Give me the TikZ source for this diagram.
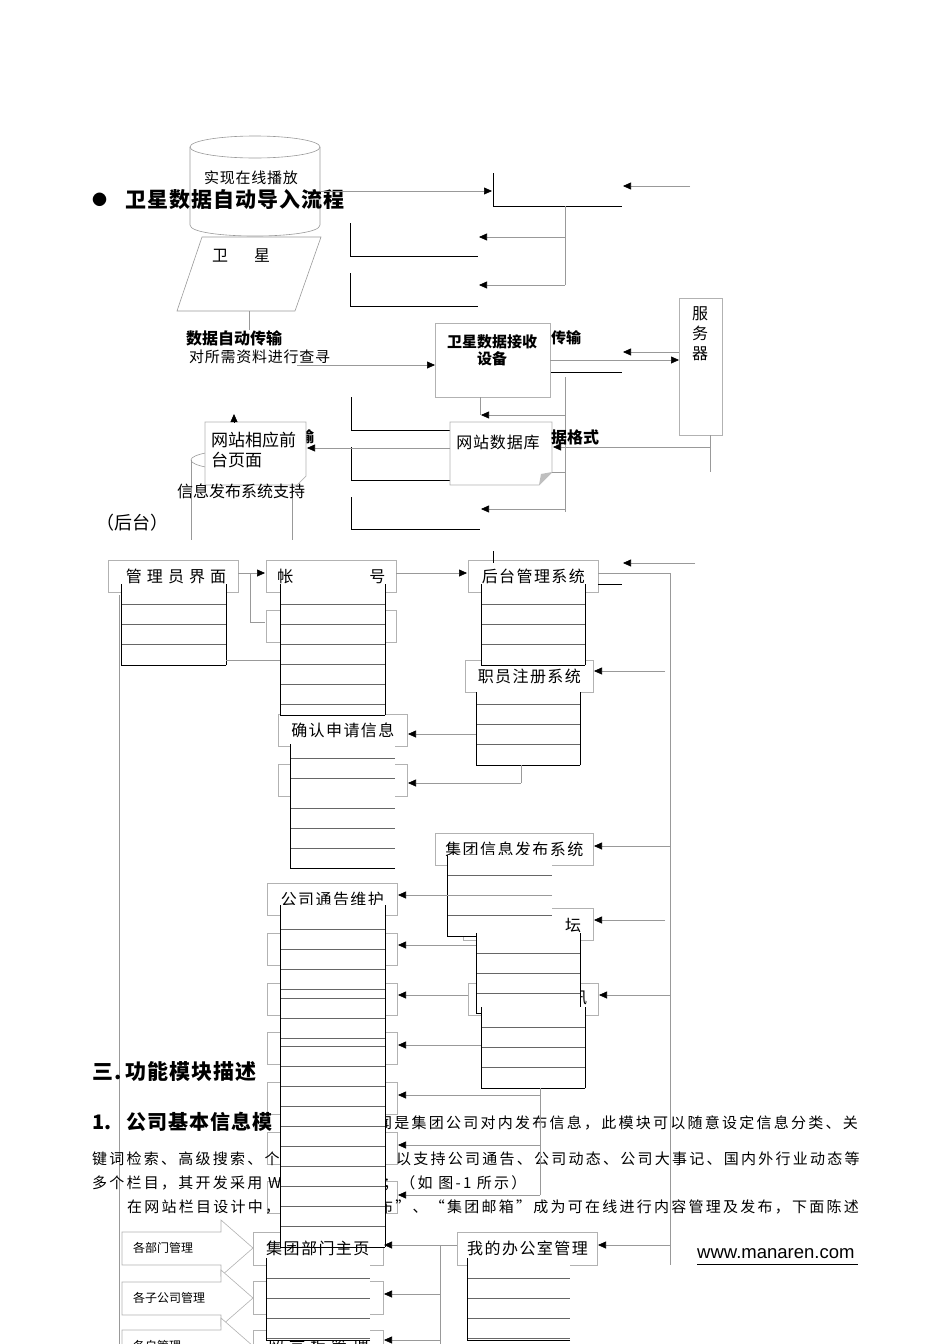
\documentclass[tikz,border=0pt]{standalone}
\usepackage{fontspec}
\setmainfont{Noto Sans CJK SC}
\newfontfamily\spa{Noto Sans CJK SC}[LetterSpace=5]
\newfontfamily\spb{Noto Sans CJK SC}[LetterSpace=9]
\newfontfamily\spp{Noto Sans CJK SC}[LetterSpace=15]
\newfontfamily\spc{Noto Sans CJK SC}[LetterSpace=32]
\newfontfamily\arialf{Liberation Sans}
\usetikzlibrary{arrows.meta,shapes.geometric,calc}
\newcommand\fsz[1]{\fontsize{#1}{#1}\selectfont}
\tikzset{
  gl/.style={draw=black!40,line width=0.6pt},
  bl/.style={draw=black,line width=0.9pt},
  arw/.style={-{Triangle[length=8pt,width=7pt,color=black]}},
  gbox/.style={draw=black!30,line width=0.7pt,fill=white,inner sep=0pt,anchor=north west,minimum height=32pt},
  lbl/.style={inner sep=0pt,anchor=west},
  boxtxt/.style={font=\fsz{16}\spb},
}
\newcommand\gridtab[6]{%
  \fill[white] (#1,#2) rectangle (#3,#4);
  \foreach \yy in {#5} \draw[draw=black!60,line width=0.6pt] (#1,\yy) -- (#3,\yy);
  \draw[bl] (#3,#4) -- (#1,#4) -- (#1,#2);
  \ifnum#6=1 \draw[bl] (#3,#4) -- (#3,#2);\fi
}
\newcommand\garr[5]{\coordinate (#1s) at (#2,#3); \coordinate (#1e) at (#4,#5); \draw[gl,arw] (#1s) -- (#1e);}
\newcommand\gln[5]{\coordinate (#1s) at (#2,#3); \coordinate (#1e) at (#4,#5); \draw[gl] (#1s) -- (#1e);}
\begin{document}
\begin{tikzpicture}[x=1pt,y=-1pt]
\useasboundingbox (0,0) rectangle (950,1344);
\clip (0,0) rectangle (950,1344);

% ---------- top section ----------
\node[inner sep=0,minimum width=130pt,minimum height=100pt] (cylA) at (255,186) {};
\draw[gl] (255,147) ellipse [x radius=65,y radius=11];
\draw[gl] (190,147) -- (190,225) .. controls (190,239.7) and (320,239.7) .. (320,225) -- (320,147);
\node[font=\fsz{15}\spa] (tplay) at (251,178) {实现在线播放};
\node[lbl,font=\fsz{15}] (bul) at (92,200) {●};
\node[lbl,font=\fsz{21}\bfseries\spa] (h1) at (125,200) {卫星数据自动导入流程};

\node[inner sep=0,minimum width=144pt,minimum height=74pt] (sat) at (249,274) {};
\draw[gl] (202,237) -- (321,237) -- (295,311) -- (177,311) -- cycle;
\node[font=\fsz{16}] (sattxt) at (241,256) {卫\hspace{26pt}星};
\gln{v1}{249}{311}{249}{330}

\garr{a0}{320}{191}{492}{191}
\draw[bl] (493,173) -- (493,206) -- (622,206);
\garr{a1}{690}{186}{623}{186}
\draw[gl] (565,206) -- (565,285);
\garr{a2}{565}{237}{479}{237}
\garr{a3}{565}{285}{479}{285}
\draw[bl] (350,223) -- (350,256) -- (478,256);
\draw[bl] (350,273) -- (350,306) -- (478,306);

\node[lbl,font=\fsz{16}\bfseries] (t2) at (186,338) {数据自动传输};
\node[lbl,font=\fsz{15}\spa] (t3) at (189,357) {对所需资料进行查寻};

\node[gbox,minimum width=115pt,minimum height=74pt] (rx) at (435,323) {};
\node[font=\fsz{15}\bfseries,align=center,inner sep=0] (rxt) at (492,350) {卫星数据接收\\[2pt]设备};
\garr{a4}{297}{365}{435}{365}
\node[lbl,font=\fsz{15}\bfseries] (t4) at (551,338) {传输};

\node[gbox,minimum width=43pt,minimum height=137pt] (srv) at (679,298) {};
\node[font=\fsz{16},align=center,inner sep=0] (srvt) at (700,334) {服\\[4pt]务\\[4pt]器};
\garr{a5}{679}{352}{623}{352}
\garr{a6}{550}{360}{679}{360}
\draw[bl] (551,372) -- (622,372);
\draw[gl] (565,377) -- (565,512);
\gln{v2}{480}{397}{480}{415}
\garr{a7}{565}{415}{481}{415}
\garr{a8}{565}{509}{481}{509}
\draw[bl] (351,397) -- (351,430) -- (450,430);
\draw[bl] (351,447) -- (351,480) -- (450,480);
\draw[bl] (351,497) -- (351,529) -- (480,529);

\node[inner sep=0,minimum width=101pt,minimum height=80pt] (cylB) at (241,500) {};
\draw[gl] (241.5,460) ellipse [x radius=50.5,y radius=10];
\draw[gl] (191,460) -- (191,540);
\draw[gl] (292,460) -- (292,540);

\node[lbl,font=\fsz{15}\bfseries] (t5) at (299,437) {输};

\node[inner sep=0,minimum width=102pt,minimum height=63pt,anchor=north west] (db) at (450,422) {};
\draw[draw=black!30,line width=0.7pt,fill=white] (450,422) -- (552,422) -- (552,472) -- (539,485) -- (450,485) -- cycle;
\fill[black!25] (539,485) -- (541,474) -- (552,472) -- cycle;
\node[font=\fsz{16}\spa] (dbt) at (498,442) {网站数据库};
\node[lbl,font=\fsz{16}\bfseries] (t6) at (551,437) {据格式};
\draw[gl] (710,435) -- (710,472);
\garr{a9}{710}{447}{553}{447}
\draw[gl] (552,472) -- (566,472);

\node[inner sep=0,minimum width=101pt,minimum height=63pt,anchor=north west] (fp) at (205,422) {};
\draw[draw=black!30,line width=0.7pt,fill=white] (205,422) -- (306,422) -- (306,476) -- (297,485) -- (205,485) -- cycle;
\node[lbl,font=\fsz{17}] (fpt1) at (211,440) {网站相应前};
\node[lbl,font=\fsz{17}] (fpt2) at (211,460) {台页面};
\garr{a10}{450}{448}{307}{448}
\draw[arw] (234,422) -- (234,414);
\node[font=\fsz{16}] (t7) at (241,491) {信息发布系统支持};
\node[lbl,font=\fsz{18}] (t8) at (96,523) {（后台）};

% ---------- middle section ----------
\draw[gl] (119,595) -- (119,1344);
\node[gbox,minimum width=130pt] (mg) at (108,560) {};
\node[font=\fsz{16}\spc,inner sep=0] (mgt) at (176,576) {管理员界面};
\node[gbox,minimum width=130pt,boxtxt] (zh) at (266,560) {帐\hspace{76pt}号};
\node[gbox,minimum width=130pt] (zh2) at (266,610) {};
\node[gbox,minimum width=130pt,boxtxt] (ht) at (468,560) {后台管理系统};
\node[gbox,minimum width=128pt,boxtxt] (zc) at (465,660) {职员注册系统};
\node[gbox,minimum width=129pt,boxtxt] (qr) at (278,714) {确认申请信息};
\node[gbox,minimum width=129pt] (qr2) at (278,764) {};
\node[gbox,minimum width=158pt,boxtxt] (jt) at (435,833) {集团信息发布系统};
\node[gbox,minimum width=130pt,boxtxt] (gg) at (267,883) {公司通告维护};
\node[gbox,minimum width=130pt] (lt) at (463,908) {};
\node[font=\fsz{16},inner sep=0] (ltt) at (573,925) {坛};
\node[gbox,minimum width=130pt] (xx) at (468,983) {};
\node[font=\fsz{16},inner sep=0] (xxt) at (579,998) {讯};
\foreach \yy/\nm in {933/c1,983/c2,1032/c3,1082/c4,1132/c5,1181/c6}
  \node[gbox,minimum width=130pt] (\nm) at (267,\yy) {};

% paragraph text (partly covered)
\node[lbl,font=\fsz{21}\bfseries\spa] (s3) at (92,1072) {三.\,功能模块描述};
\node[lbl,font=\fsz{20}\bfseries] (s1a) at (92,1122) {1.};
\node[lbl,font=\fsz{20}\bfseries\spa] (s1b) at (126,1122) {公司基本信息模};
\node[lbl,font=\fsz{15}\spp] (p1) at (377,1123) {闻是集团公司对内发布信息，此模块可以随意设定信息分类、关};
\node[lbl,font=\fsz{15}\spp] (p2a) at (92,1159) {键词检索、高级搜索、个};
\node[lbl,font=\fsz{15}\spp] (p2b) at (396,1159) {以支持公司通告、公司动态、公司大事记、国内外行业动态等};
\node[lbl,font=\fsz{15}\spp] (p3a) at (92,1183) {多个栏目，其开发采用 WI};
\node[lbl,font=\fsz{15}\spp] (p3b) at (383,1183) {；（如 图-1 所示）};
\node[lbl,font=\fsz{15}\spp] (p4a) at (127,1207) {在网站栏目设计中，};
\node[lbl,font=\fsz{15}\spp] (p4b) at (378,1207) {布”、“集团邮箱”成为可在线进行内容管理及发布，下面陈述};

% ---------- bottom section ----------
\foreach \yy/\nm/\tx in {1232/k1/各部门管理,1282/k2/各子公司管理,1330/k3/各自管理}{
  \draw[draw=black!30,line width=0.6pt,fill=white] (122,\yy) -- (221,\yy) -- (221,\yy-12) -- (253,\yy+16) -- (221,\yy+44) -- (221,\yy+33) -- (122,\yy+33) -- cycle;
  \node[lbl,font=\fsz{12}] (\nm) at (133,\yy+16) {\tx};
}
\node[gbox,minimum width=130pt,minimum height=33pt] (bm) at (253,1232) {};
\node[gbox,minimum width=130pt,minimum height=33pt] (bm2) at (253,1281) {};
\node[gbox,minimum width=130pt,minimum height=33pt,font=\fsz{16}\spc] (ly) at (253,1330) {留言板管理};
\node[gbox,minimum width=140pt,minimum height=33pt] (wo) at (457,1232) {};

% tables
\gridtab{121}{584}{226}{665}{604,624,644}{1}
\gridtab{280}{584}{385}{715}{604,624,644,664,684,704}{1}
\gridtab{481}{584}{585}{665}{604,624,644}{1}
\gridtab{476}{692}{580}{765}{704,724,744}{1}
\gridtab{290}{744}{395}{868}{758,778,808,828,848}{0}
\gridtab{447}{855}{552}{936}{875,895,915}{0}
\draw[bl] (447,936) -- (476,936);
\gridtab{476}{933}{580}{1013}{953,973,993}{1}
\gridtab{481}{1007}{585}{1088}{1027,1047,1067}{1}
\gridtab{280}{905}{385}{1247}{929,949,969,989,998,1018,1038,1046,1066,1086,1106,1126,1146,1166,1186,1206,1226}{1}
\gridtab{266}{1258}{370}{1340}{1278,1298,1318,1338}{0}
\gridtab{467}{1258}{570}{1340}{1278,1298,1318,1338}{0}
\node[lbl,font=\fsz{16}\spb] (bmt) at (266,1248) {集团部门主页};
\node[lbl,font=\fsz{16}\spb] (wot) at (467,1248) {我的办公室管理};

% middle connectors
\garr{b1}{238}{573}{265}{573}
\draw[gl] (250,573) -- (250,622) -- (265,622);
\gln{b2}{226}{660}{280}{660}
\garr{b3}{396}{573}{467}{573}
\draw[bl] (493,551) -- (493,563);
\garr{b4}{695}{563}{623}{563}
\draw[bl] (598,584) -- (622,584);
\draw[gl] (598,573) -- (670,573) -- (670,1265);
\garr{b5}{665}{671}{594}{671}
\garr{b6}{476}{734}{408}{734}
\draw[gl] (521,765) -- (521,783);
\garr{b7}{521}{783}{408}{783}
\garr{b8}{670}{846}{594}{846}
\garr{b9}{552}{895}{398}{895}
\garr{b10}{665}{920}{594}{920}
\garr{b11}{670}{995}{599}{995}
\garr{b12}{476}{945}{398}{945}
\garr{b13}{468}{995}{398}{995}
\garr{b14}{481}{1045}{398}{1045}
\draw[gl] (540,1088) -- (540,1195);
\garr{b15}{540}{1095}{398}{1095}
\garr{b16}{540}{1145}{398}{1145}
\garr{b17}{540}{1195}{398}{1195}

% bottom connectors
\garr{c1a}{670}{1245}{598}{1245}
\draw[gl] (457,1245) -- (440,1245) -- (440,1344);
\garr{c2}{440}{1245}{384}{1245}
\garr{c3}{440}{1294}{384}{1294}
\garr{c4}{440}{1340}{384}{1340}

\node[lbl,font=\fsz{18.5}\arialf] (www) at (697,1254) {www.manaren.com};
\draw[line width=0.8pt] (697,1264) -- (858,1264);
\end{tikzpicture}
\end{document}
